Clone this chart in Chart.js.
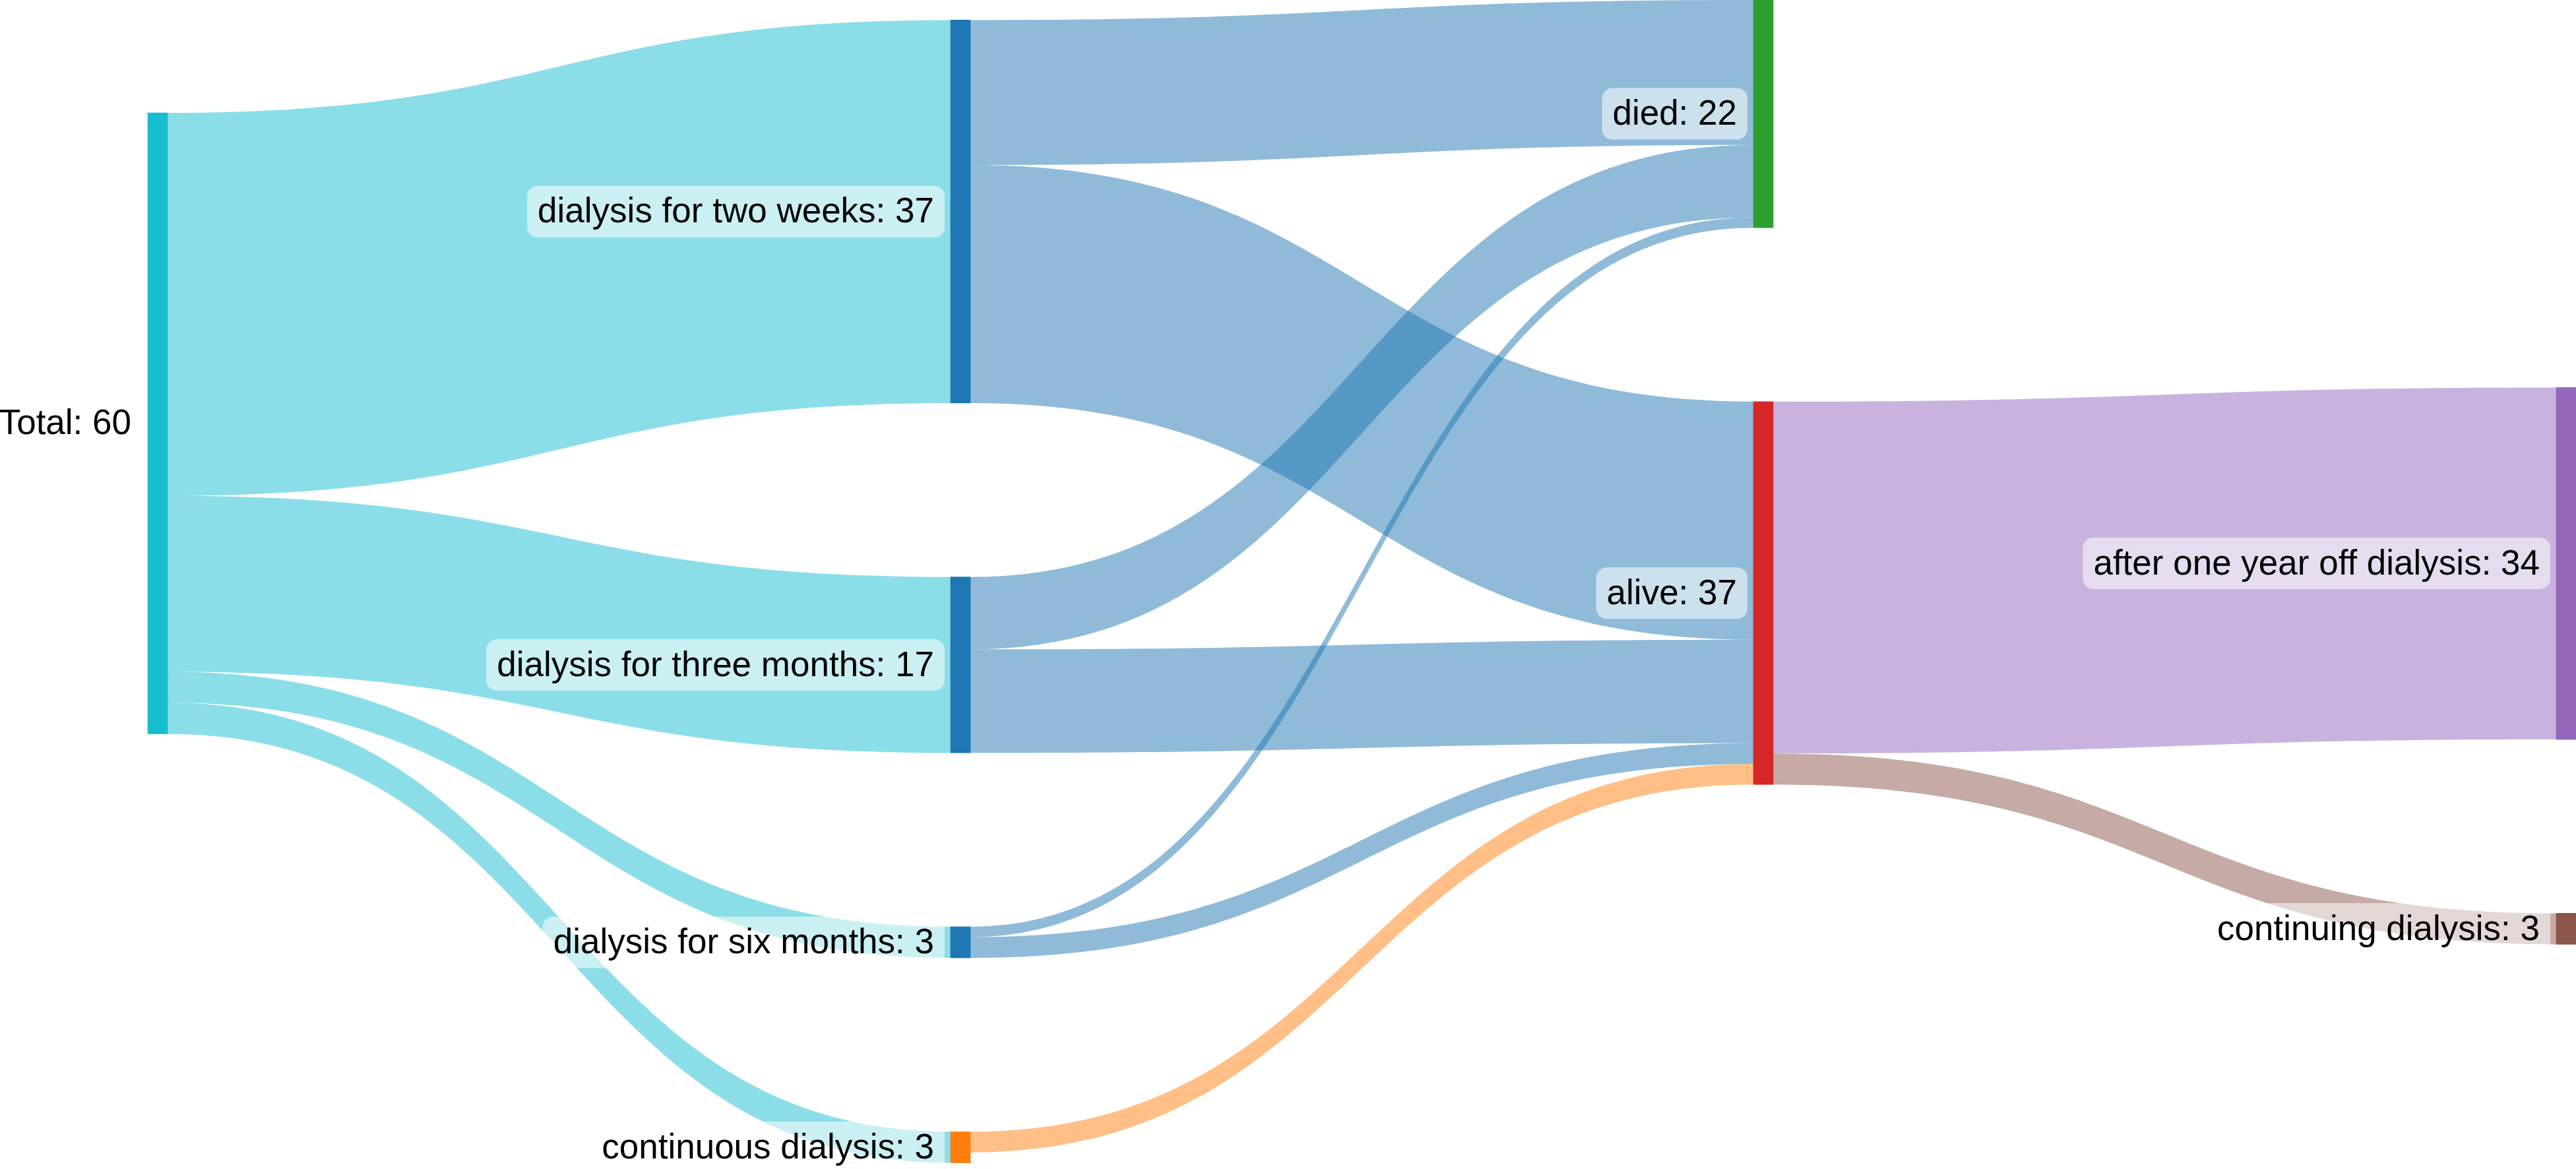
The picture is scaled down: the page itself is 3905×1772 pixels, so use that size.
<!DOCTYPE html>
<html>
<head>
<meta charset="utf-8">
<script src="https://cdn.jsdelivr.net/npm/chart.js@4/dist/chart.umd.min.js"></script>
<style>
  html, body { margin: 0; padding: 0; background: #fff; overflow: hidden; }
  #wrap { position: relative; width: 3905px; height: 1772px; }
</style>
</head>
<body>
<div id="wrap"><canvas id="myChart"></canvas></div>
<script>
// nodes
const nodeLabels = [
    'Total',
    'dialysis for two weeks',
    'dialysis for three months',
    'dialysis for six months',
    'continuous dialysis',
    'died',
    'alive',
    'after one year off dialysis',
    'continuing dialysis'
];
const nodeColumns = [0, 1, 1, 1, 1, 2, 2, 3, 3];

// links
const linkSources = [0, 0, 0, 0, 1, 1, 2, 2, 3, 3, 4, 6, 6];
const linkTargets = [1, 2, 3, 4, 5, 6, 5, 6, 5, 6, 6, 7, 8];
const linkValues  = [37, 17, 3, 3, 14, 23, 7, 10, 1, 2, 2, 34, 3];

// styles
const nodeColors = ['#17becf', '#1f77b4', '#1f77b4', '#1f77b4', '#ff7f0e', '#2ca02c', '#d62728', '#9467bd', '#8c564b'];
const linkColors = [
    'rgba(23,190,207,0.5)', 'rgba(23,190,207,0.5)', 'rgba(23,190,207,0.5)', 'rgba(23,190,207,0.5)',
    'rgba(31,119,180,0.5)', 'rgba(31,119,180,0.5)', 'rgba(31,119,180,0.5)', 'rgba(31,119,180,0.5)',
    'rgba(31,119,180,0.5)', 'rgba(31,119,180,0.5)', 'rgba(255,127,14,0.5)',
    'rgba(148,103,189,0.5)', 'rgba(140,86,75,0.5)'
];

const NODE_PAD = 16.8;      // gap between nodes, in value units
const NODE_WIDTH = 30;      // px
const Y_MIN = -1.94, Y_MAX = 111.0;
const X_MIN = -0.1964, X_MAX = 3.0123;
const FONT = '53px "Liberation Sans", Arial, sans-serif';

// node values = max(in, out)
const nodeValues = nodeLabels.map((_, i) => {
    let inSum = 0, outSum = 0;
    linkValues.forEach((v, l) => {
        if (linkTargets[l] === i) inSum += v;
        if (linkSources[l] === i) outSum += v;
    });
    return Math.max(inSum, outSum);
});

// offsets of each link inside its source and target node
const srcOffset = [], tgtOffset = [];
nodeLabels.forEach((_, i) => {
    let acc = 0;
    linkValues.map((v, l) => l).filter(l => linkSources[l] === i)
        .sort((a, b) => linkTargets[a] - linkTargets[b])
        .forEach(l => { srcOffset[l] = acc; acc += linkValues[l]; });
    acc = 0;
    linkValues.map((v, l) => l).filter(l => linkTargets[l] === i)
        .sort((a, b) => linkSources[a] - linkSources[b])
        .forEach(l => { tgtOffset[l] = acc; acc += linkValues[l]; });
});

// vertical layout
const nColumns = Math.max(...nodeColumns) + 1;
const columns = [];
for (let c = 0; c < nColumns; c++) {
    columns.push(nodeLabels.map((_, i) => i).filter(i => nodeColumns[i] === c));
}
const span = col => col.reduce((s, i) => s + nodeValues[i], 0) + (col.length - 1) * NODE_PAD;
let anchor = 0;
columns.forEach((col, c) => { if (span(col) > span(columns[anchor])) anchor = c; });

const nodeTop = [];
function placeColumn(col, desiredTop) {
    // isotonic fit of tops with the gaps as constraints
    let o = 0;
    const offs = col.map(i => { const r = o; o += nodeValues[i] + NODE_PAD; return r; });
    let blocks = [];
    col.forEach((i, k) => {
        blocks.push({ w: nodeValues[i], v: desiredTop[k] - offs[k], n: 1 });
        while (blocks.length > 1 && blocks[blocks.length - 2].v > blocks[blocks.length - 1].v) {
            const b = blocks.pop(), a = blocks.pop();
            blocks.push({ w: a.w + b.w, v: (a.v * a.w + b.v * b.w) / (a.w + b.w), n: a.n + b.n });
        }
    });
    const hi = Y_MAX - span(col);
    let k = 0;
    blocks.forEach(b => {
        for (let j = 0; j < b.n; j++, k++) {
            nodeTop[col[k]] = offs[k] + Math.min(hi, Math.max(Y_MIN, b.v));
        }
    });
}

{
    let acc = 0;
    columns[anchor].forEach(i => { nodeTop[i] = acc; acc += nodeValues[i] + NODE_PAD; });
}
for (let c = anchor + 1; c < nColumns; c++) {
    placeColumn(columns[c], columns[c].map(i => {
        let sw = 0, s = 0;
        linkValues.forEach((v, l) => {
            if (linkTargets[l] === i) { sw += v; s += v * (nodeTop[linkSources[l]] + srcOffset[l] + v / 2); }
        });
        return s / sw - nodeValues[i] / 2;
    }));
}
for (let c = anchor - 1; c >= 0; c--) {
    placeColumn(columns[c], columns[c].map(i => {
        let sw = 0, s = 0;
        linkValues.forEach((v, l) => {
            if (linkSources[l] === i) { sw += v; s += v * (nodeTop[linkTargets[l]] + tgtOffset[l] + v / 2); }
        });
        return s / sw - nodeValues[i] / 2;
    }));
}

const linksPlugin = {
    id: 'sankeyLinks',
    beforeDatasetsDraw(chart) {
        const { ctx, scales: { x, y } } = chart;
        ctx.save();
        linkValues.forEach((v, l) => {
            const s = linkSources[l], t = linkTargets[l];
            const x0 = x.getPixelForValue(nodeColumns[s]) + NODE_WIDTH / 2;
            const x1 = x.getPixelForValue(nodeColumns[t]) - NODE_WIDTH / 2;
            const xm = (x0 + x1) / 2;
            const a0 = y.getPixelForValue(nodeTop[s] + srcOffset[l]);
            const b0 = y.getPixelForValue(nodeTop[s] + srcOffset[l] + v);
            const a1 = y.getPixelForValue(nodeTop[t] + tgtOffset[l]);
            const b1 = y.getPixelForValue(nodeTop[t] + tgtOffset[l] + v);
            ctx.beginPath();
            ctx.moveTo(x0, a0);
            ctx.bezierCurveTo(xm, a0, xm, a1, x1, a1);
            ctx.lineTo(x1, b1);
            ctx.bezierCurveTo(xm, b1, xm, b0, x0, b0);
            ctx.closePath();
            ctx.fillStyle = linkColors[l];
            ctx.fill();
        });
        ctx.restore();
    }
};

const labelsPlugin = {
    id: 'sankeyLabels',
    afterDatasetsDraw(chart) {
        const { ctx, scales: { x, y } } = chart;
        ctx.save();
        ctx.font = FONT;
        ctx.textBaseline = 'middle';
        ctx.textAlign = 'right';
        nodeLabels.forEach((label, i) => {
            const text = label + ': ' + nodeValues[i];
            const cy = y.getPixelForValue(nodeTop[i] + nodeValues[i] / 2);
            const right = x.getPixelForValue(nodeColumns[i]) - NODE_WIDTH / 2 - 9;
            const w = ctx.measureText(text).width + 32;
            const h = 78;
            ctx.fillStyle = 'rgba(255,255,255,0.55)';
            ctx.beginPath();
            ctx.roundRect(right - w, cy - h / 2, w, h, 16);
            ctx.fill();
            ctx.fillStyle = '#000';
            ctx.fillText(text, right - 16, cy + 2);
        });
        ctx.restore();
    }
};

const config = {
    type: 'bar',
    data: {
        datasets: [{
            data: nodeLabels.map((_, i) => ({ x: nodeColumns[i], y: [nodeTop[i], nodeTop[i] + nodeValues[i]] })),
            backgroundColor: nodeColors,
            borderWidth: 0,
            barThickness: NODE_WIDTH
        }]
    },
    options: {
        responsive: true,
        maintainAspectRatio: false,
        animation: false,
        layout: { padding: 0 },
        plugins: { legend: { display: false }, tooltip: { enabled: false } },
        scales: {
            x: { type: 'linear', min: X_MIN, max: X_MAX, offset: false, display: false },
            y: { type: 'linear', min: Y_MIN, max: Y_MAX, reverse: true, display: false }
        }
    },
    plugins: [linksPlugin, labelsPlugin]
};

const myChart = new Chart(document.getElementById('myChart'), config);
</script>
</body>
</html>
